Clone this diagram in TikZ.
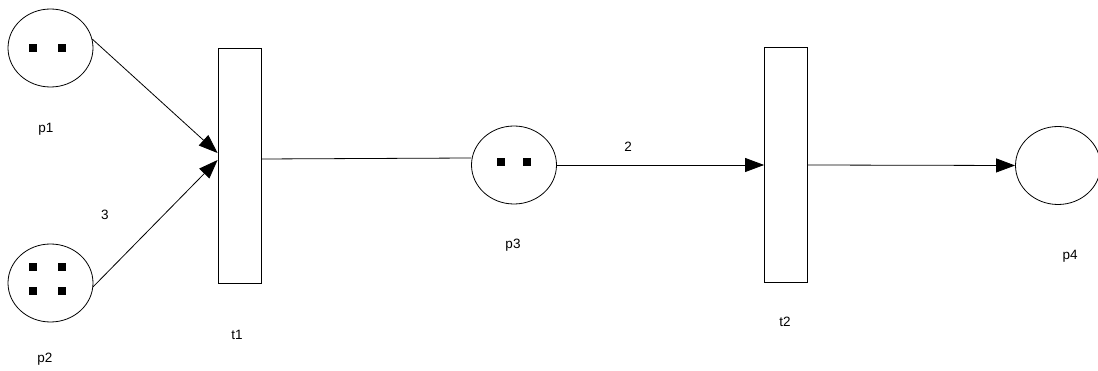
\documentclass[tikz,border=0pt]{standalone}
\usepackage{fontspec}
\setmainfont{Liberation Sans}
\usetikzlibrary{shapes.geometric,arrows.meta}
\begin{document}
\begin{tikzpicture}[x=1pt,y=-1pt,
  place/.style={draw,ellipse,inner sep=0pt,minimum width=85pt,minimum height=78pt,line width=0.8pt},
  trans/.style={draw,rectangle,inner sep=0pt,minimum width=43pt,minimum height=235pt,line width=0.8pt},
  token/.style={fill=black,inner sep=0pt,minimum size=8pt,rectangle},
  lbl/.style={inner sep=0pt,font=\fontsize{13.5}{15}\selectfont},
  arc/.style={line width=0.8pt,-{Triangle[length=19pt,width=14pt]}},
  plain/.style={line width=0.8pt}]
\useasboundingbox (0,0) rectangle (1098,371);
% places
\node[place] (p1) at (50.5,48) {};
\node[place] (p2) at (50.5,283) {};
\node[place] (p3) at (514,165) {};
\node[place] (p4) at (1058,165.5) {};
% transitions
\node[trans] (t1) at (239.5,165.5) {};
\node[trans] (t2) at (786,165) {};
% tokens
\node[token] (k1) at (33,48) {};
\node[token] (k2) at (62,48) {};
\node[token] (k3) at (33,267) {};
\node[token] (k4) at (62,267) {};
\node[token] (k5) at (33,291) {};
\node[token] (k6) at (62,291) {};
\node[token] (k7) at (501,162) {};
\node[token] (k8) at (527,162) {};
% labels
\node[lbl] (lp1) at (46,129) {p1};
\node[lbl] (lp2) at (45,359) {p2};
\node[lbl] (lp3) at (513,245) {p3};
\node[lbl] (lp4) at (1070,256) {p4};
\node[lbl] (lt1) at (237,335) {t1};
\node[lbl] (lt2) at (785,322) {t2};
\node[lbl] (w3) at (105,215) {3};
\node[lbl] (w2) at (628,147) {2};
% arcs
\coordinate (t1a) at ([yshift=12.5pt]t1.west);
\coordinate (t1b) at ([yshift=5.5pt]t1.west);
\draw[arc] (p1.12) -- (t1a);
\draw[arc] (p2.-5) -- (t1b);
\draw[plain] ([yshift=6.5pt]t1.east) -- ([yshift=7pt]p3.west);
\draw[arc] (p3.east) -- (t2.west);
\draw[arc] (t2.east) -- (p4.west);
\end{tikzpicture}
\end{document}
